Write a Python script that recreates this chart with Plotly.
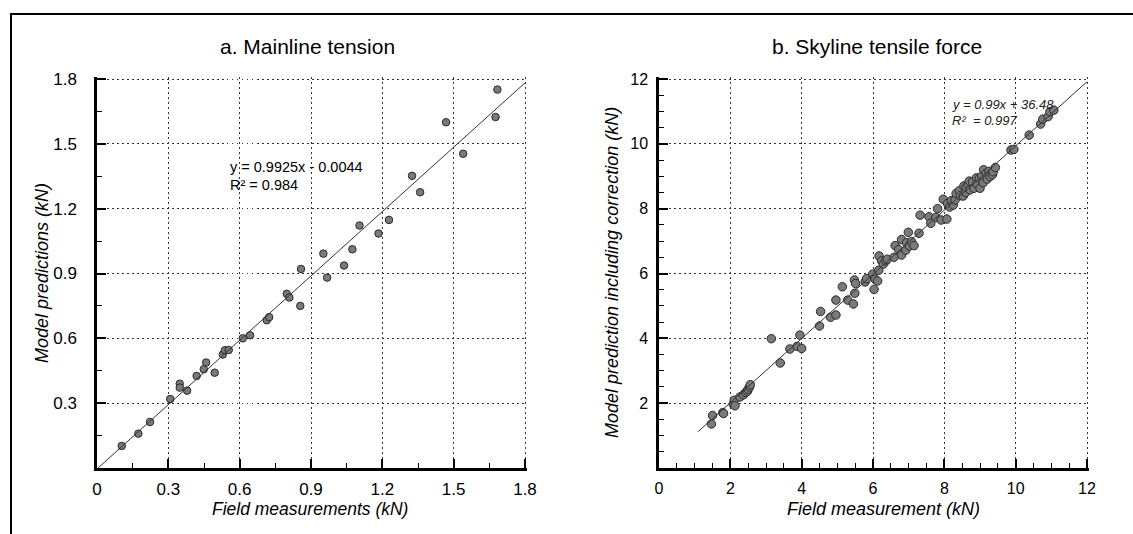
import plotly.graph_objects as go

# ---------------- data ----------------
# a. Mainline tension (kN)
mainline_field = [0.104, 0.174, 0.223, 0.308, 0.348, 0.348, 0.379, 0.419, 0.449, 0.459,
                  0.495, 0.529, 0.538, 0.554, 0.613, 0.644, 0.714, 0.724, 0.798, 0.809,
                  0.855, 0.858, 0.952, 0.968, 1.039, 1.074, 1.104, 1.184, 1.228, 1.325,
                  1.359, 1.468, 1.540, 1.676, 1.684]
mainline_model = [0.102, 0.159, 0.213, 0.319, 0.390, 0.372, 0.358, 0.426, 0.457, 0.488,
                  0.441, 0.525, 0.545, 0.546, 0.600, 0.614, 0.684, 0.698, 0.806, 0.789,
                  0.750, 0.921, 0.992, 0.881, 0.937, 1.012, 1.122, 1.085, 1.148, 1.352,
                  1.276, 1.600, 1.454, 1.624, 1.751]
mainline_slope, mainline_intercept = 0.9925, -0.0044
mainline_fit_x = [0.0, 1.8]

# b. Skyline tensile force (kN)
skyline_field = [1.47, 1.50, 1.79, 1.81, 2.08, 2.11, 2.13, 2.27, 2.37, 2.43,
                 2.48, 2.50, 2.54, 2.56, 3.15, 3.40, 3.67, 3.87, 3.95, 4.00,
                 4.50, 4.53, 4.81, 4.96, 4.96, 5.14, 5.29, 5.45, 5.48, 5.49,
                 5.51, 5.78, 5.82, 5.99, 6.03, 6.06, 6.13, 6.16, 6.17, 6.24,
                 6.29, 6.36, 6.40, 6.59, 6.62, 6.72, 6.80, 6.80, 6.92, 6.94,
                 6.99, 7.02, 7.08, 7.15, 7.29, 7.32, 7.57, 7.62, 7.76, 7.81,
                 7.91, 7.97, 8.07, 8.09, 8.15, 8.20, 8.25, 8.30, 8.33, 8.42,
                 8.45, 8.53, 8.55, 8.60, 8.61, 8.67, 8.70, 8.72, 8.79, 8.83,
                 8.90, 8.92, 8.98, 9.00, 9.05, 9.09, 9.10, 9.17, 9.20, 9.25,
                 9.28, 9.35, 9.37, 9.43, 9.87, 9.95, 10.38, 10.70, 10.76, 10.91,
                 10.96, 11.07]
skyline_model = [1.36, 1.62, 1.71, 1.68, 1.97, 2.09, 1.92, 2.19, 2.26, 2.33,
                 2.37, 2.43, 2.50, 2.57, 3.99, 3.24, 3.67, 3.75, 4.10, 3.69,
                 4.38, 4.83, 4.65, 5.18, 4.72, 5.59, 5.18, 5.06, 5.80, 5.39,
                 5.69, 5.74, 5.84, 5.98, 5.51, 5.82, 5.77, 6.10, 6.54, 6.39,
                 6.29, 6.39, 6.44, 6.50, 6.86, 6.74, 6.57, 7.05, 6.72, 6.95,
                 7.27, 6.85, 6.98, 6.86, 7.24, 7.80, 7.75, 7.55, 7.73, 8.00,
                 7.65, 8.29, 7.68, 8.16, 8.05, 8.25, 8.11, 8.27, 8.47, 8.55,
                 8.40, 8.39, 8.70, 8.50, 8.66, 8.73, 8.85, 8.58, 8.83, 8.63,
                 8.95, 8.76, 8.94, 8.63, 9.00, 8.80, 9.20, 9.09, 8.91, 9.15,
                 8.99, 9.05, 9.14, 9.27, 9.81, 9.83, 10.27, 10.61, 10.76, 10.84,
                 10.99, 11.04]
skyline_slope, skyline_intercept = 0.99, 0.03648
skyline_fit_x = [1.1, 12.0]

mainline_ticks = [0.0, 0.3, 0.6, 0.9, 1.2, 1.5, 1.8]
mainline_ticktext = ["0", "0.3", "0.6", "0.9", "1.2", "1.5", "1.8"]
skyline_ticks = [0, 2, 4, 6, 8, 10, 12]
skyline_ticktext = ["0", "2", "4", "6", "8", "10", "12"]

# ---------------- figure ----------------
W, H = 1133, 534
FONT = "Liberation Sans, Arial, sans-serif"

def px(x):
    return x / W

def py(y):
    return 1 - y / H

fig = go.Figure()

marker = dict(color="#7a7a7a", size=7.5, line=dict(color="#2a2a2a", width=1))

fig.add_trace(go.Scatter(x=mainline_field, y=mainline_model, mode="markers",
                         marker=marker, xaxis="x", yaxis="y", showlegend=False))
fig.add_trace(go.Scatter(x=mainline_fit_x,
                         y=[mainline_slope * v + mainline_intercept for v in mainline_fit_x],
                         mode="lines", line=dict(color="#333333", width=1),
                         xaxis="x", yaxis="y", showlegend=False))

fig.add_trace(go.Scatter(x=skyline_field, y=skyline_model, mode="markers",
                         marker=dict(marker, size=8.5), xaxis="x2", yaxis="y2", showlegend=False))
fig.add_trace(go.Scatter(x=skyline_fit_x,
                         y=[skyline_slope * v + skyline_intercept for v in skyline_fit_x],
                         mode="lines", line=dict(color="#333333", width=1),
                         xaxis="x2", yaxis="y2", showlegend=False))

GRID = dict(showgrid=True, gridcolor="#333333", gridwidth=1, griddash="1.5px,3.5px",
            showline=True, linecolor="black", linewidth=2.5,
            ticks="inside", ticklen=9, tickwidth=1.5, tickcolor="black",
            zeroline=False, fixedrange=True, automargin=False, layer="above traces")

ydom = [py(468), py(77)]

fig.update_layout(
    template="none",
    width=W, height=H,
    margin=dict(l=0, r=0, t=0, b=0, pad=0),
    paper_bgcolor="white", plot_bgcolor="white",
    font=dict(family=FONT, color="black"),
    xaxis=dict(GRID, domain=[px(97), px(527)], range=[0, 1.8 + 2 / 237.8],
               tickvals=mainline_ticks, ticktext=mainline_ticktext,
               tickfont=dict(size=17), ticklabelstandoff=4,
               minor=dict(dtick=0.15, tick0=0, ticks="inside", ticklen=5,
                          tickwidth=1.2, tickcolor="black", showgrid=False),
               anchor="y"),
    yaxis=dict(GRID, domain=ydom, range=[0, 1.8 + 2 / 216.1],
               tickvals=mainline_ticks[1:], ticktext=mainline_ticktext[1:],
               tickfont=dict(size=17), ticklabelstandoff=14,
               minor=dict(dtick=0.15, tick0=0, ticks="inside", ticklen=5,
                          tickwidth=1.2, tickcolor="black", showgrid=False),
               anchor="x"),
    xaxis2=dict(GRID, domain=[px(659), px(1089)], range=[0, 12 + 2 / 35.67],
                tickvals=skyline_ticks, ticktext=skyline_ticktext,
                tickfont=dict(size=16), ticklabelstandoff=4,
                minor=dict(dtick=0.5, tick0=0, ticks="inside", ticklen=5,
                           tickwidth=1.2, tickcolor="black", showgrid=False),
                anchor="y2"),
    yaxis2=dict(GRID, domain=ydom, range=[0, 12 + 2 / 32.42],
                tickvals=skyline_ticks[1:], ticktext=skyline_ticktext[1:],
                tickfont=dict(size=16), ticklabelstandoff=5,
                minor=dict(dtick=0.5, tick0=0, ticks="inside", ticklen=5,
                           tickwidth=1.2, tickcolor="black", showgrid=False),
                anchor="x2"),
)

ann = []
# panel titles
ann.append(dict(text="a. Mainline tension", x=px(307), y=py(47), xref="paper", yref="paper",
                showarrow=False, xanchor="center", yanchor="middle", font=dict(size=21)))
ann.append(dict(text="b. Skyline tensile force", x=px(877), y=py(47), xref="paper", yref="paper",
                showarrow=False, xanchor="center", yanchor="middle", font=dict(size=21)))
# axis titles
ann.append(dict(text="<i>Model predictions (kN)</i>", x=px(42), y=py(273), xref="paper", yref="paper",
                showarrow=False, textangle=-90, xanchor="center", yanchor="middle", font=dict(size=18)))
ann.append(dict(text="<i>Model prediction including correction (kN)</i>", x=px(612), y=py(273),
                xref="paper", yref="paper", showarrow=False, textangle=-90,
                xanchor="center", yanchor="middle", font=dict(size=18)))
ann.append(dict(text="<i>Field measurements (kN)</i>", x=px(310), y=py(509), xref="paper", yref="paper",
                showarrow=False, xanchor="center", yanchor="middle", font=dict(size=17.5)))
ann.append(dict(text="<i>Field measurement (kN)</i>", x=px(883), y=py(509), xref="paper", yref="paper",
                showarrow=False, xanchor="center", yanchor="middle", font=dict(size=18)))
# equations
ann.append(dict(text="y = 0.9925x - 0.0044", x=px(228), y=py(167), xref="paper", yref="paper",
                showarrow=False, xanchor="left", yanchor="middle", font=dict(size=14.5)))
ann.append(dict(text="R² = 0.984", x=px(228), y=py(185), xref="paper", yref="paper",
                showarrow=False, xanchor="left", yanchor="middle", font=dict(size=14.5)))
ann.append(dict(text="<i>y = 0.99x + 36.48</i>", x=px(950), y=py(104), xref="paper", yref="paper",
                showarrow=False, xanchor="left", yanchor="middle", font=dict(size=13, color="#222222")))
ann.append(dict(text="<i>R²  = 0.997</i>", x=px(950), y=py(120), xref="paper", yref="paper",
                showarrow=False, xanchor="left", yanchor="middle", font=dict(size=13, color="#222222")))
fig.update_layout(annotations=ann)

# outer frame (open on the right and bottom as in the reference)
fig.add_shape(type="rect", xref="paper", yref="paper",
              x0=px(11), x1=1.02, y0=-0.05, y1=py(14),
              line=dict(color="black", width=2), fillcolor="rgba(0,0,0,0)", layer="above")

fig.write_html("out.html",
               config={"displayModeBar": False},
               post_script="document.body.style.margin='0';document.body.style.padding='0';")
